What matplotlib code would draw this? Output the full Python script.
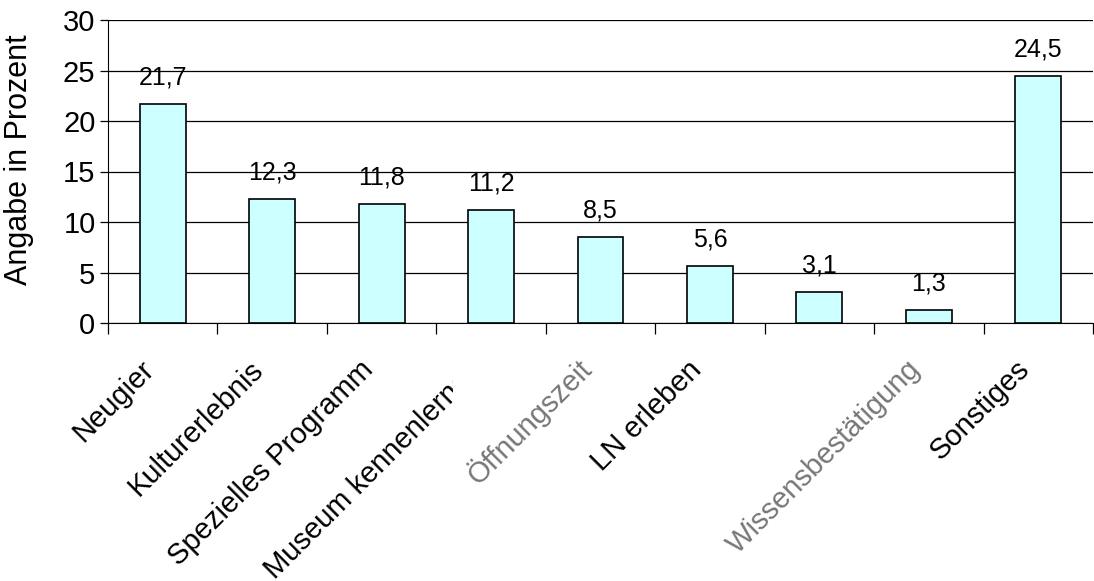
import matplotlib
matplotlib.use("Agg")
import matplotlib.pyplot as plt
from matplotlib.ticker import MultipleLocator, FixedLocator
from matplotlib.transforms import Bbox, TransformedBbox, ScaledTranslation

# Gruende fuer den Museumsbesuch (Angaben in Prozent)
kategorien = ["Neugier", "Kulturerlebnis", "Spezielles Programm",
              "Museum kennenlernen", "Öffnungszeit", "LN erleben",
              "", "Wissensbestätigung", "Sonstiges"]
werte = [21.7, 12.3, 11.8, 11.2, 8.5, 5.6, 3.1, 1.3, 24.5]
werte_text = ["21,7", "12,3", "11,8", "11,2", "8,5", "5,6", "3,1", "1,3", "24,5"]

plt.rcParams['font.family'] = ['Liberation Sans', 'DejaVu Sans']

fig = plt.figure(figsize=(10.94, 5.81), dpi=100)
ax = fig.add_axes([108 / 1094, 1 - 323 / 581, 985 / 1094, 303 / 581])

x = list(range(len(werte)))
ax.bar(x, werte, width=0.42, color='#CCFFFF', edgecolor='black', linewidth=1.2, zorder=3)

# Werte ueber den Balken
for xi, w, t in zip(x, werte, werte_text):
    ax.annotate(t, (xi, w), xytext=(0, 14), textcoords='offset points',
                ha='center', va='baseline', fontsize=18)

ax.set_xlim(-0.5, len(werte) - 0.5)
ax.set_ylim(0, 30)
ax.yaxis.set_major_locator(MultipleLocator(5))
ax.grid(axis='y', color='black', linewidth=0.9, zorder=0)

ax.spines['top'].set_visible(False)
ax.spines['right'].set_visible(False)

ax.tick_params(axis='y', direction='out', length=6, width=0.9, labelsize=21, pad=3)
ax.xaxis.set_major_locator(FixedLocator(x))
ax.xaxis.set_minor_locator(FixedLocator([i - 0.5 for i in range(len(werte) + 1)]))
ax.tick_params(axis='x', which='major', length=0, labelbottom=False)
ax.tick_params(axis='x', which='minor', direction='out', length=8, width=0.9)

# Kategorien schraeg unter der Achse
versatz = ScaledTranslation(-3 / 100, -52 / 100, fig.dpi_scale_trans)
clip = TransformedBbox(Bbox([[0, 0], [453 / 1094, 1]]), fig.transFigure)
for i, name in enumerate(kategorien):
    txt = ax.text(i, 0, name, transform=ax.get_xaxis_transform() + versatz,
                  rotation=45, ha='right', va='bottom', rotation_mode='anchor',
                  fontsize=21)
    if name in ("Öffnungszeit", "Wissensbestätigung"):
        txt.set_color('#777777')
    if i == 3:
        txt.set_clip_box(clip)
        txt.set_clip_on(True)

ax.set_ylabel("Angabe in Prozent", fontsize=22)
ax.yaxis.set_label_coords((34 - 108) / 985, (323 - 160) / 303)

fig.savefig("out.png", dpi=100)
